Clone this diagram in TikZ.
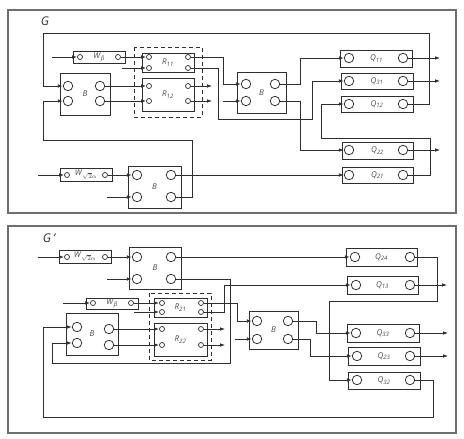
\documentclass[tikz,border=0pt]{standalone}
\usepackage{fontspec}
\setmainfont{Open Sans}
\usetikzlibrary{arrows.meta}
\definecolor{ln}{HTML}{2E2E2E}
\definecolor{fr}{HTML}{6E6E6E}
\definecolor{tx}{HTML}{4A4A4A}
\newcommand{\lb}[2]{\textit{#1}\textsubscript{\textit{#2}}}
\begin{document}
\begin{tikzpicture}[x=1pt,y=-1pt,
  box/.style={draw=ln, line width=0.85pt, inner sep=0pt, font=\fontsize{8}{9}\selectfont, text=tx},
  big/.style={draw=ln, line width=0.75pt, circle, minimum size=9.5pt, inner sep=0pt},
  sml/.style={draw=ln, line width=0.7pt, circle, minimum size=5pt, inner sep=0pt},
  wire/.style={draw=ln, line width=0.8pt},
  arr/.style={wire, -{Latex[length=5pt,width=3.6pt]}},
  frm/.style={draw=fr, line width=1.6pt},
  dsh/.style={draw=ln, line width=0.85pt, dash pattern=on 4pt off 3pt},
  ttl/.style={font=\fontsize{12}{13}\selectfont\itshape, text=ln, inner sep=0pt}
]
\useasboundingbox[fill=white] (0,0) rectangle (464,439);

% ================= TOP PANEL G =================
\draw[frm] (8,10) rectangle (456,213);
\node[ttl] (lG) at (45,21) {G};

% boxes
\node[box, minimum width=52pt, minimum height=12pt] (WB) at (99,57) {\lb{W}{β}};
\node[box, minimum width=52pt, minimum height=19pt] (R11) at (168,62.5) {\lb{R}{11}};
\node[box, minimum width=52pt, minimum height=33pt] (R12) at (168,94.5) {\lb{R}{12}};
\draw[dsh] (134,47) rectangle (202,117);
\node[box, minimum width=50pt, minimum height=42pt] (B1) at (85,94) {\textit{B}};
\node[box, minimum width=49pt, minimum height=41pt] (B2) at (261.5,92.5) {\textit{B}};
\node[box, minimum width=53pt, minimum height=42pt] (B3) at (154.5,187) {\textit{B}};
\node[box, minimum width=52pt, minimum height=13pt] (WA) at (86,174.5) {\lb{W}{\(\sqrt{2}\alpha\)}};
\node[box, minimum width=72pt, minimum height=17pt] (Q11) at (376.5,58.5) {\lb{Q}{11}};
\node[box, minimum width=72pt, minimum height=16pt] (Q31) at (377,81) {\lb{Q}{31}};
\node[box, minimum width=72pt, minimum height=16pt] (Q12) at (377,104) {\lb{Q}{12}};
\node[box, minimum width=71pt, minimum height=17pt] (Q22) at (377.5,150.5) {\lb{Q}{22}};
\node[box, minimum width=71pt, minimum height=16pt] (Q21) at (377.5,175) {\lb{Q}{21}};

% ports
\node[sml] (wbi) at (80,57) {};   \node[sml] (wbo) at (118,57) {};
\node[sml] (r11i1) at (149,57) {}; \node[sml] (r11i2) at (149,68) {};
\node[sml] (r11o1) at (188,57) {}; \node[sml] (r11o2) at (188,68) {};
\node[sml] (r12i1) at (149,86) {}; \node[sml] (r12i2) at (149,101) {};
\node[sml] (r12o1) at (188,86) {}; \node[sml] (r12o2) at (188,101) {};
\node[big] (b1i1) at (68,86) {}; \node[big] (b1i2) at (68,101) {};
\node[big] (b1o1) at (100,86) {}; \node[big] (b1o2) at (100,101) {};
\node[big] (b2i1) at (246,84) {}; \node[big] (b2i2) at (246,101) {};
\node[big] (b2o1) at (275,84) {}; \node[big] (b2o2) at (275,101) {};
\node[big] (b3i1) at (137,175) {}; \node[big] (b3i2) at (137,197) {};
\node[big] (b3o1) at (171,175) {}; \node[big] (b3o2) at (171,197) {};
\node[sml] (wai) at (67,175) {};  \node[sml] (wao) at (105,175) {};
\node[big] (q11i) at (349,58) {}; \node[big] (q11o) at (403,58) {};
\node[big] (q31i) at (349,81) {}; \node[big] (q31o) at (403,81) {};
\node[big] (q12i) at (349,104) {}; \node[big] (q12o) at (403,104) {};
\node[big] (q22i) at (349,150) {}; \node[big] (q22o) at (403,150) {};
\node[big] (q21i) at (349,175) {}; \node[big] (q21o) at (403,175) {};

% free ends
\coordinate (wbin) at (52,57);
\coordinate (r11in2) at (122,68);
\coordinate (r12e1) at (212,86);
\coordinate (r12e2) at (212,101);
\coordinate (b2in2) at (223,101);
\coordinate (q11e) at (440,58);
\coordinate (q31e) at (440,81);
\coordinate (q22e) at (440,150);
\coordinate (wain) at (38,175);
\coordinate (b3in2) at (107,197);

% wires
\draw[arr] (wbin) -- (wbi);
\draw[arr] (wbo) -- (r11i1);
\draw[arr] (r11in2) -- (r11i2);
\draw[arr] (b1o1) -- (r12i1);
\draw[arr] (b1o2) -- (r12i2);
\draw[arr] (r12o1) -- (r12e1);
\draw[arr] (r12o2) -- (r12e2);
\draw[arr] (q12o) -- (429,104) -- (429,33) -- (43,33) |- (b1i1);
\draw[arr] (b3o2) -- (192,197) -- (192,140) -- (43,140) |- (b1i2);
\draw[arr] (r11o1) -- (223,57) |- (b2i1);
\draw[arr] (r11o2) -- (218,68) -- (218,119) -- (312,119) |- (q31i);
\draw[arr] (b2in2) -- (b2i2);
\draw[arr] (b2o1) -- (300,84) |- (q11i);
\draw[arr] (b2o2) -- (300,101) |- (q22i);
\draw[arr] (q11o) -- (q11e);
\draw[arr] (q31o) -- (q31e);
\draw[arr] (q22o) -- (q22e);
\draw[arr] (q21o) -- (430,175) -- (430,138) -- (321,138) |- (q12i);
\draw[arr] (wain) -- (wai);
\draw[arr] (wao) -- (b3i1);
\draw[arr] (b3in2) -- (b3i2);
\draw[arr] (b3o1) -- (q21i);

% ================= BOTTOM PANEL G' =================
\draw[frm] (8,226) rectangle (456,433);
\node[ttl] (lG2) at (49,238) {G\,'};

\node[box, minimum width=52pt, minimum height=13pt] (WA2) at (85,256.5) {\lb{W}{\(\sqrt{2}\alpha\)}};
\node[box, minimum width=52pt, minimum height=42pt] (B4) at (155,268) {\textit{B}};
\node[box, minimum width=52pt, minimum height=11pt] (WB2) at (112,303.5) {\lb{W}{β}};
\node[box, minimum width=53pt, minimum height=19pt] (R21) at (180.5,307.5) {\lb{R}{21}};
\node[box, minimum width=53pt, minimum height=33pt] (R22) at (180.5,339.5) {\lb{R}{22}};
\draw[dsh] (149,293) rectangle (211,360);
\node[box, minimum width=52pt, minimum height=42pt] (B5) at (92,334) {\textit{B}};
\node[box, minimum width=49pt, minimum height=38pt] (B6) at (273.5,330) {\textit{B}};
\node[box, minimum width=71pt, minimum height=18pt] (Q24) at (381.5,257) {\lb{Q}{24}};
\node[box, minimum width=71pt, minimum height=18pt] (Q13) at (382.5,285) {\lb{Q}{13}};
\node[box, minimum width=72pt, minimum height=18pt] (Q33) at (383,333) {\lb{Q}{33}};
\node[box, minimum width=72pt, minimum height=18pt] (Q23) at (384,356) {\lb{Q}{23}};
\node[box, minimum width=72pt, minimum height=17pt] (Q32) at (384,380.5) {\lb{Q}{32}};

\node[sml] (wa2i) at (67,257) {}; \node[sml] (wa2o) at (105,257) {};
\node[big] (b4i1) at (137,257) {}; \node[big] (b4i2) at (137,279) {};
\node[big] (b4o1) at (171,257) {}; \node[big] (b4o2) at (171,279) {};
\node[sml] (wb2i) at (93,303) {}; \node[sml] (wb2o) at (131,303) {};
\node[sml] (r21i1) at (162,303) {}; \node[sml] (r21i2) at (162,312) {};
\node[sml] (r21o1) at (201,303) {}; \node[sml] (r21o2) at (201,312) {};
\node[sml] (r22i1) at (162,329) {}; \node[sml] (r22i2) at (162,345) {};
\node[sml] (r22o1) at (201,329) {}; \node[sml] (r22o2) at (201,345) {};
\node[big] (b5i1) at (77,327) {}; \node[big] (b5i2) at (77,343) {};
\node[big] (b5o1) at (109,329) {}; \node[big] (b5o2) at (109,345) {};
\node[big] (b6i1) at (257,321) {}; \node[big] (b6i2) at (257,339) {};
\node[big] (b6o1) at (288,321) {}; \node[big] (b6o2) at (288,339) {};
\node[big] (q24i) at (355,257) {}; \node[big] (q24o) at (410,257) {};
\node[big] (q13i) at (356,285) {}; \node[big] (q13o) at (410,285) {};
\node[big] (q33i) at (356,333) {}; \node[big] (q33o) at (410,333) {};
\node[big] (q23i) at (357,356) {}; \node[big] (q23o) at (410,356) {};
\node[big] (q32i) at (357,380) {}; \node[big] (q32o) at (410,380) {};

\coordinate (wa2in) at (38,257);
\coordinate (b4in2) at (107,279);
\coordinate (wb2in) at (63,303);
\coordinate (r21in2) at (134,312);
\coordinate (r22e1) at (225,329);
\coordinate (r22e2) at (225,345);
\coordinate (b6in2) at (235,339);
\coordinate (q13e) at (447,285);
\coordinate (q33e) at (448,333);
\coordinate (q23e) at (448,356);

\draw[arr] (wa2in) -- (wa2i);
\draw[arr] (wa2o) -- (b4i1);
\draw[arr] (b4in2) -- (b4i2);
\draw[arr] (b4o1) -- (q24i);
\draw[arr] (b4o2) -- (230,279) -- (230,363) -- (52,363) |- (b5i2);
\draw[arr] (q32o) -- (433,380) -- (433,417) -- (43,417) |- (b5i1);
\draw[arr] (wb2in) -- (wb2i);
\draw[arr] (wb2o) -- (r21i1);
\draw[arr] (r21in2) -- (r21i2);
\draw[arr] (b5o1) -- (r22i1);
\draw[arr] (b5o2) -- (r22i2);
\draw[arr] (r22o1) -- (r22e1);
\draw[arr] (r22o2) -- (r22e2);
\draw[arr] (r21o1) -- (237,303) |- (b6i1);
\draw[arr] (r21o2) -- (224,312) |- (q13i);
\draw[arr] (b6in2) -- (b6i2);
\draw[arr] (b6o1) -- (316,321) |- (q33i);
\draw[arr] (b6o2) -- (310,339) |- (q23i);
\draw[arr] (q24o) -- (437,257) -- (437,301) -- (329,301) |- (q32i);
\draw[arr] (q13o) -- (q13e);
\draw[arr] (q33o) -- (q33e);
\draw[arr] (q23o) -- (q23e);
\end{tikzpicture}
\end{document}
